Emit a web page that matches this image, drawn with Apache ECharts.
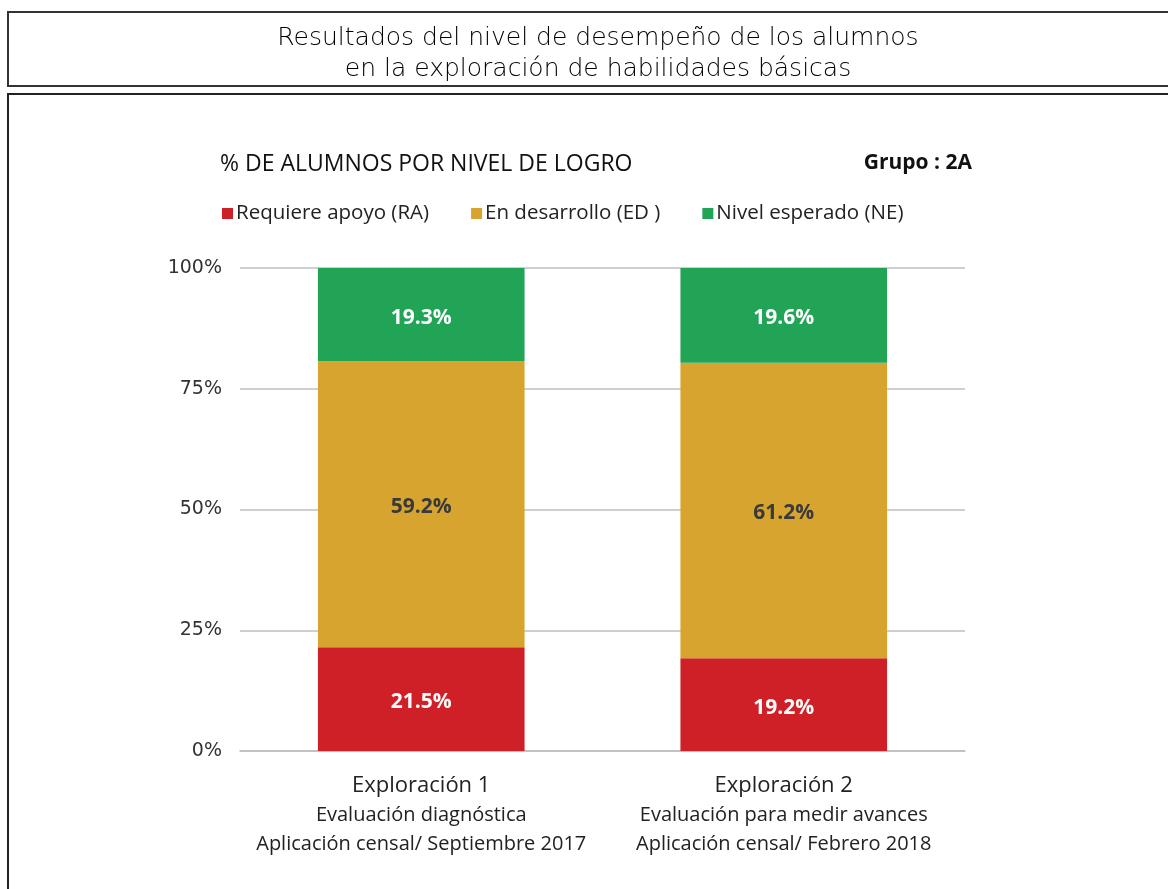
<!DOCTYPE html>
<html>
<head>
<meta charset="utf-8">
<script src="https://cdn.jsdelivr.net/npm/echarts@6/dist/echarts.min.js"></script>
<style>
  html, body { margin: 0; padding: 0; background: #fff; }
  #grafik { width: 1168px; height: 889px; }
</style>
</head>
<body>
<div id="grafik"></div>
<script>
var categories = ['Exploración 1', 'Exploración 2'];
var subtitles1 = ['Evaluación diagnóstica', 'Evaluación para medir avances'];
var subtitles2 = ['Aplicación censal/ Septiembre 2017', 'Aplicación censal/ Febrero 2018'];
var dataRA = [21.5, 19.2];
var dataED = [59.2, 61.2];
var dataNE = [19.3, 19.6];
var yTicks = [0, 25, 50, 75, 100];

var myChart = echarts.init(document.getElementById('grafik'));

var fontChart = '"Open Sans", "Noto Sans", sans-serif';

function segLabel(color) {
  return {
    show: true,
    position: 'inside',
    offset: [0, 3],
    color: color,
    fontFamily: fontChart,
    fontWeight: 'bold',
    fontSize: 21,
    formatter: function (p) { return p.value.toFixed(1) + '%'; }
  };
}

var option = {
  animation: false,
  backgroundColor: '#fff',
  title: [
    {
      text: 'Resultados del nivel de desempeño de los alumnos\nen la exploración de habilidades básicas',
      left: 593,
      top: 18,
      textAlign: 'center',
      textStyle: {
        fontFamily: '"DejaVu Sans", sans-serif',
        fontWeight: 300,
        fontSize: 25,
        lineHeight: 31,
        color: '#000'
      }
    },
    {
      text: '% DE ALUMNOS POR NIVEL DE LOGRO',
      left: 215,
      top: 148,
      textStyle: {
        fontFamily: fontChart,
        fontWeight: 'normal',
        fontSize: 23,
        color: '#111'
      }
    },
    {
      text: 'Grupo : 2A',
      right: 191,
      top: 148,
      textStyle: {
        fontFamily: fontChart,
        fontWeight: 'bold',
        fontSize: 21,
        color: '#111'
      }
    }
  ],
  graphic: [
    {
      type: 'rect',
      shape: { x: 8, y: 12, width: 1200, height: 74 },
      style: { fill: 'none', stroke: '#333', lineWidth: 2 }
    },
    {
      type: 'rect',
      shape: { x: 8, y: 94, width: 1200, height: 900 },
      style: { fill: 'none', stroke: '#222', lineWidth: 2 }
    }
  ],
  legend: {
    left: 217,
    top: 198,
    itemWidth: 11,
    itemHeight: 11,
    itemGap: 42,
    icon: 'rect',
    textStyle: {
      fontFamily: fontChart,
      fontSize: 20.5,
      color: '#222',
      padding: [0, 0, 0, -2]
    },
    data: ['Requiere apoyo (RA)', 'En desarrollo (ED )', 'Nivel esperado (NE)']
  },
  grid: {
    left: 240,
    right: 203,
    top: 268,
    bottom: 138
  },
  xAxis: {
    type: 'category',
    data: categories,
    axisTick: { show: false },
    axisLine: { lineStyle: { color: '#bfbfbf', width: 1.5 } },
    axisLabel: {
      margin: 20,
      interval: 0,
      formatter: function (v, i) {
        return '{a|' + v + '}\n{b|' + subtitles1[i] + '}\n{b|' + subtitles2[i] + '}';
      },
      rich: {
        a: { fontFamily: fontChart, fontSize: 22, color: '#222', lineHeight: 30 },
        b: { fontFamily: fontChart, fontSize: 20, color: '#222', lineHeight: 29 }
      }
    }
  },
  yAxis: {
    type: 'value',
    min: yTicks[0],
    max: yTicks[yTicks.length - 1],
    interval: 25,
    axisLabel: {
      formatter: '{value}%',
      fontFamily: '"DejaVu Sans", sans-serif',
      fontSize: 19,
      color: '#333',
      margin: 18
    },
    splitLine: { lineStyle: { color: '#bfbfbf', width: 1.5 } }
  },
  series: [
    {
      name: 'Requiere apoyo (RA)',
      type: 'bar',
      stack: 'total',
      barWidth: '57%',
      itemStyle: { color: '#d02027' },
      label: segLabel('#fff'),
      data: dataRA
    },
    {
      name: 'En desarrollo (ED )',
      type: 'bar',
      stack: 'total',
      itemStyle: { color: '#d7a52f' },
      label: segLabel('#3a3a3a'),
      data: dataED
    },
    {
      name: 'Nivel esperado (NE)',
      type: 'bar',
      stack: 'total',
      itemStyle: { color: '#22a457' },
      label: segLabel('#fff'),
      data: dataNE
    }
  ]
};

myChart.setOption(option);
</script>
</body>
</html>
